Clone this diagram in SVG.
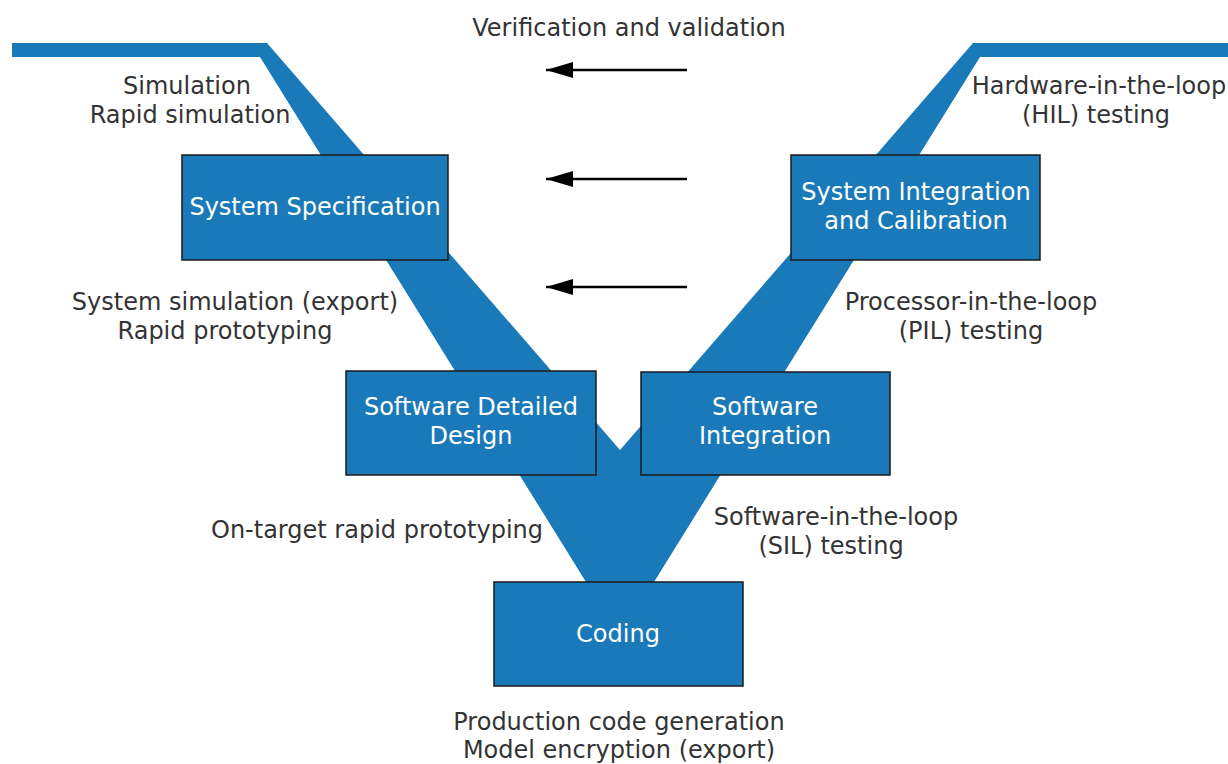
<svg xmlns="http://www.w3.org/2000/svg" width="1228" height="764" viewBox="0 0 1228 764">
<defs>
<style>
.lbl{font-family:"DejaVu Sans",Verdana,sans-serif;font-size:24px;fill:#333333;text-anchor:middle}
.box{fill:#1a7ab9;stroke:#1a1a1a;stroke-width:1.5}
.bt{font-family:"DejaVu Sans",Verdana,sans-serif;font-size:24px;fill:#ffffff;text-anchor:middle}
.arr{stroke:#000;stroke-width:2.5;fill:none;marker-end:url(#ah)}
</style>
<marker id="ah" viewBox="0 0 10 10" refX="10" refY="5" markerWidth="27" markerHeight="16" markerUnits="userSpaceOnUse" orient="auto" preserveAspectRatio="none">
<path d="M0,0 L10,5 L0,10 Z" fill="#000"/>
</marker>
</defs>
<rect width="1228" height="764" fill="#ffffff"/>
<g id="vshape">
<polygon points="12,43 267,43 620,450 973,43 1228,43 1228,57 980,57 654,582 586,582 260,57 12,57" fill="#1a7ab9"/>
</g>
<g id="connectors">
<line class="arr" x1="687" y1="70" x2="546" y2="70"/>
<line class="arr" x1="687" y1="179" x2="546" y2="179"/>
<line class="arr" x1="687" y1="287" x2="546" y2="287"/>
</g>
<g id="title"><text class="lbl" x="629" y="36">Verification and validation</text></g>
<g id="lbl-sim"><text class="lbl" x="187" y="94">Simulation</text><text class="lbl" x="190" y="123">Rapid simulation</text></g>
<g id="lbl-hil"><text class="lbl" x="1099" y="94">Hardware-in-the-loop</text><text class="lbl" x="1096" y="123">(HIL) testing</text></g>
<g id="lbl-syssim"><text class="lbl" x="235" y="310">System simulation (export)</text><text class="lbl" x="225" y="339">Rapid prototyping</text></g>
<g id="lbl-pil"><text class="lbl" x="971" y="310">Processor-in-the-loop</text><text class="lbl" x="971" y="339">(PIL) testing</text></g>
<g id="lbl-ontarget"><text class="lbl" x="377" y="538">On-target rapid prototyping</text></g>
<g id="lbl-sil"><text class="lbl" x="836" y="525">Software-in-the-loop</text><text class="lbl" x="831" y="554">(SIL) testing</text></g>
<g id="lbl-prod"><text class="lbl" x="619" y="730">Production code generation</text><text class="lbl" x="619" y="758">Model encryption (export)</text></g>
<g id="node-sysspec"><rect class="box" x="182" y="155" width="266" height="105"/><text class="bt" x="315" y="215">System Specification</text></g>
<g id="node-sysint"><rect class="box" x="791" y="155" width="249" height="105"/><text class="bt" x="916" y="200">System Integration</text><text class="bt" x="916" y="229">and Calibration</text></g>
<g id="node-swdd"><rect class="box" x="346" y="371" width="250" height="104"/><text class="bt" x="471" y="415">Software Detailed</text><text class="bt" x="471" y="444">Design</text></g>
<g id="node-swint"><rect class="box" x="641" y="372" width="249" height="103"/><text class="bt" x="765" y="415">Software</text><text class="bt" x="765" y="444">Integration</text></g>
<g id="node-coding"><rect class="box" x="494" y="582" width="249" height="104"/><text class="bt" x="618" y="642">Coding</text></g>
</svg>
